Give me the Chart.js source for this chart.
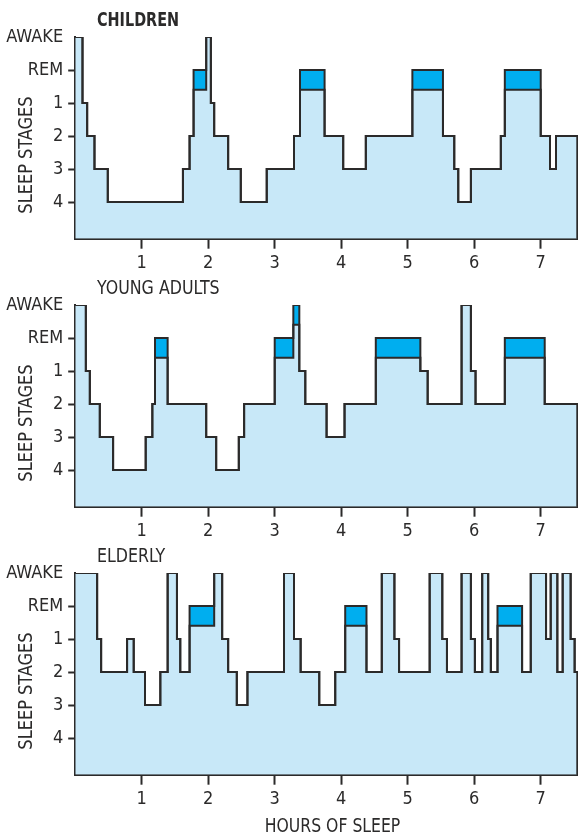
<!DOCTYPE html>
<html>
<head>
<meta charset="utf-8">
<script src="https://cdn.jsdelivr.net/npm/chart.js@4.4.1/dist/chart.umd.min.js"></script>
<style>
  html, body { margin: 0; padding: 0; background: #ffffff; }
  #wrap { position: relative; width: 578px; height: 834px; overflow: hidden; }
  #wrap canvas { position: absolute; left: 0; }
</style>
</head>
<body>
<div id="wrap">
  <canvas id="children" width="578" height="268" style="top:0px"></canvas>
  <canvas id="young" width="578" height="268" style="top:268px"></canvas>
  <canvas id="elderly" width="578" height="298" style="top:536px"></canvas>
</div>
<script>
// Sleep stages from top (awake) to bottom (deepest sleep)
const stageLabels = ['AWAKE', 'REM', '1', '2', '3', '4'];
const hourTicks = [1, 2, 3, 4, 5, 6, 7];

// Each stage holds from its time until the next time (hours of sleep)
const childrenTimes = [0, 0.11, 0.18, 0.29, 0.49, 1.62, 1.72, 1.78, 1.97, 2.04, 2.09, 2.30, 2.49, 2.88,
  3.29, 3.38, 3.75, 4.03, 4.37, 5.07, 5.53, 5.70, 5.76, 5.95, 6.40, 6.46, 7.00, 7.14, 7.23, 7.55];
const childrenStages = ['AWAKE', '1', '2', '3', '4', '3', '2', 'REM', 'AWAKE', '1', '2', '3', '4', '3',
  '2', 'REM', '2', '3', '2', 'REM', '2', '3', '4', '3', '2', 'REM', '2', '3', '2', '2'];
const childrenRem = [[1.78, 1.97], [3.38, 3.75], [5.07, 5.53], [6.46, 7.00]];

const youngTimes = [0, 0.16, 0.22, 0.37, 0.57, 1.06, 1.16, 1.20, 1.39, 1.97, 2.12, 2.46, 2.54, 3.00,
  3.28, 3.37, 3.46, 3.78, 4.05, 4.52, 5.19, 5.30, 5.81, 5.95, 6.02, 6.46, 7.06, 7.55];
const youngStages = ['AWAKE', '1', '2', '3', '4', '3', '2', 'REM', '2', '3', '4', '3', '2', 'REM',
  'AWAKE', '1', '2', '3', '2', 'REM', '1', '2', 'AWAKE', '1', '2', 'REM', '2', '2'];
const youngRem = [[1.20, 1.39], [3.00, 3.28], [3.28, 3.37], [4.52, 5.19], [6.46, 7.06]];

const elderlyTimes = [0, 0.33, 0.39, 0.78, 0.88, 1.05, 1.28, 1.39, 1.53, 1.58, 1.72, 2.09, 2.21, 2.30,
  2.43, 2.59, 3.14, 3.29, 3.39, 3.67, 3.91, 4.06, 4.38, 4.61, 4.80, 4.87, 5.33, 5.52, 5.59, 5.81,
  5.95, 6.01, 6.12, 6.21, 6.25, 6.35, 6.72, 6.85, 7.08, 7.15, 7.25, 7.33, 7.45, 7.51, 7.55];
const elderlyStages = ['AWAKE', '1', '2', '1', '2', '3', '2', 'AWAKE', '1', '2', 'REM', 'AWAKE', '1', '2',
  '3', '2', 'AWAKE', '1', '2', '3', '2', 'REM', '2', 'AWAKE', '1', '2', 'AWAKE', '1', '2', 'AWAKE',
  '1', '2', 'AWAKE', '1', '2', 'REM', '2', 'AWAKE', '1', 'AWAKE', '2', 'AWAKE', '1', '2', '2'];
const elderlyRem = [[1.72, 2.09], [4.06, 4.38], [6.35, 6.72]];

const INK = '#2b2a2a';
const SLEEP_BLUE = '#c8e8f8';
const REM_BLUE = '#00aeef';
const FONT = "'DejaVu Sans Condensed', 'Liberation Sans Narrow', sans-serif";
const REM_DEPTH = 0.6;       // depth of the REM band below the stage line
const X_MAX = 7.55;
const Y_MIN = -0.11;
const Y_MAX = 6;

Chart.defaults.font.family = FONT;
Chart.defaults.color = INK;

const stageValue = s => stageLabels.length - stageLabels.indexOf(s);

// Condensed caption text: drawn at full height, squeezed horizontally
function condensedText(ctx, text, x, y, squeeze) {
  ctx.save();
  ctx.translate(x, y);
  ctx.scale(squeeze, 1);
  ctx.fillText(text, 0, 0);
  ctx.restore();
}

// Panel caption, vertical axis caption and (last panel) horizontal axis caption
const panelText = {
  id: 'panelText',
  afterDraw(chart, args, opts) {
    const ctx = chart.ctx;
    ctx.save();
    ctx.fillStyle = INK;
    ctx.textBaseline = 'alphabetic';

    ctx.font = (opts.titleWeight || 'normal') + ' 20px ' + FONT;
    ctx.textAlign = 'left';
    condensedText(ctx, opts.title, 97, 26, opts.titleSqueeze || 0.88);

    ctx.font = '20px ' + FONT;
    ctx.textAlign = 'center';
    if (opts.xTitle) {
      condensedText(ctx, opts.xTitle, 332.5, 295.5, 0.87);
    }
    ctx.translate(31.5, 155);
    ctx.rotate(-Math.PI / 2);
    condensedText(ctx, 'SLEEP STAGES', 0, 0, 0.9);
    ctx.restore();
  }
};

// Closes the hypnogram on the right: drop from the last stage down to the axis
const closeRight = {
  id: 'closeRight',
  afterDatasetsDraw(chart) {
    const meta = chart.getDatasetMeta(1);
    const pts = meta.data;
    if (!pts.length) return;
    const last = pts[pts.length - 1];
    const ctx = chart.ctx;
    ctx.save();
    ctx.strokeStyle = INK;
    ctx.lineWidth = 2;
    ctx.beginPath();
    ctx.moveTo(last.x, last.y - 1);
    ctx.lineTo(last.x, chart.chartArea.bottom);
    ctx.stroke();
    ctx.restore();
  }
};

function makePanel(id, title, times, stages, remEpisodes, opts) {
  const main = times.map((t, i) => ({ x: t, y: stageValue(stages[i]) }));
  const inRem = t => remEpisodes.some(([s, e]) => t >= s - 1e-6 && t < e - 1e-6);
  const remFloor = main.map(p => ({ x: p.x, y: inRem(p.x) ? p.y - REM_DEPTH : p.y }));
  const canvas = document.getElementById(id);
  const xAxisHeight = canvas.height - 238.7;

  return new Chart(canvas, {
    type: 'line',
    data: {
      datasets: [
        {
          label: 'REM',
          data: remFloor,
          stepped: 'before',
          borderColor: INK,
          borderWidth: 2,
          backgroundColor: REM_BLUE,
          fill: '+1',
          pointRadius: 0,
          borderJoinStyle: 'miter'
        },
        {
          label: title,
          data: main,
          stepped: 'before',
          borderColor: INK,
          borderWidth: 2,
          backgroundColor: SLEEP_BLUE,
          fill: 'start',
          pointRadius: 0,
          borderJoinStyle: 'miter'
        }
      ]
    },
    options: {
      responsive: false,
      animation: false,
      devicePixelRatio: 1,
      events: [],
      layout: { padding: { top: 37, right: 0.7, left: 0, bottom: 0 } },
      plugins: {
        legend: { display: false },
        tooltip: { enabled: false },
        filler: { drawTime: 'beforeDatasetsDraw' },
        panelText: {
          title: title, titleWeight: opts.titleWeight, titleSqueeze: opts.titleSqueeze, xTitle: opts.xTitle
        }
      },
      scales: {
        x: {
          type: 'linear',
          min: 0,
          max: X_MAX,
          afterBuildTicks: s => { s.ticks = hourTicks.map(v => ({ value: v })); },
          afterFit: s => { s.height = xAxisHeight; },
          grid: { drawOnChartArea: false, drawTicks: true, tickLength: 10, tickWidth: 2, tickColor: INK },
          border: { display: true, color: INK, width: 2 },
          ticks: {
            color: INK, padding: 4, maxRotation: 0, autoSkip: false,
            font: { family: FONT, size: 18 },
            callback: v => String(v)
          }
        },
        y: {
          type: 'linear',
          min: Y_MIN,
          max: Y_MAX,
          afterBuildTicks: s => { s.ticks = stageLabels.map((_, i) => ({ value: stageLabels.length - i })); },
          afterFit: s => { s.width = 75.2; },
          grid: {
            drawOnChartArea: false, drawTicks: true, tickLength: 7, tickWidth: 2,
            tickColor: c => (c.tick && c.tick.value === stageLabels.length) ? 'rgba(0,0,0,0)' : INK
          },
          border: { display: true, color: INK, width: 2 },
          ticks: {
            color: INK, padding: 5, autoSkip: false,
            font: { family: FONT, size: 18 },
            callback: v => stageLabels[stageLabels.length - v]
          }
        }
      }
    },
    plugins: [panelText, closeRight]
  });
}

makePanel('children', 'CHILDREN', childrenTimes, childrenStages, childrenRem, { titleWeight: 'bold', titleSqueeze: 0.8 });
makePanel('young', 'YOUNG ADULTS', youngTimes, youngStages, youngRem, {});
makePanel('elderly', 'ELDERLY', elderlyTimes, elderlyStages, elderlyRem, { xTitle: 'HOURS OF SLEEP' });
</script>
</body>
</html>
